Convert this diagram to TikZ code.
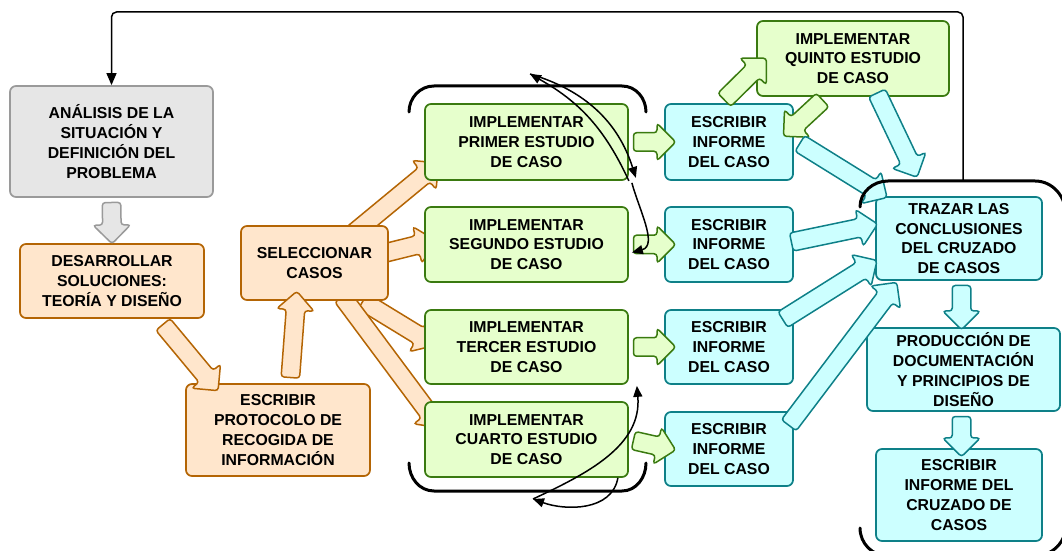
\documentclass[tikz,border=0pt]{standalone}
\usepackage{fontspec}
\setmainfont{Liberation Sans}
\usetikzlibrary{arrows.meta,calc,shapes.arrows,backgrounds}

\definecolor{grisfondo}{HTML}{E6E6E6}
\definecolor{grisborde}{HTML}{9A9A9A}
\definecolor{naranjafondo}{HTML}{FFE6CC}
\definecolor{naranjaborde}{HTML}{B46504}
\definecolor{verdefondo}{HTML}{E6FFCC}
\definecolor{verdeborde}{HTML}{3A7A10}
\definecolor{cianfondo}{HTML}{CCFFFF}
\definecolor{cianborde}{HTML}{0E8088}

\tikzset{
  caja/.style={draw, rounded corners=1.2mm, line width=0.35mm, align=center, inner sep=1pt,
    font=\fontsize{9}{11.3}\selectfont\bfseries},
  gris/.style={fill=grisfondo, draw=grisborde},
  naranja/.style={fill=naranjafondo, draw=naranjaborde},
  verde/.style={fill=verdefondo, draw=verdeborde},
  cian/.style={fill=cianfondo, draw=cianborde},
  bloque/.style={single arrow, draw, line width=0.3mm, rounded corners=0.6mm,
    inner xsep=0pt, inner ysep=1.7mm, single arrow head extend=1.9mm},
  llave/.style={line width=0.6mm, line cap=round},
  curva/.style={line width=0.3mm, -{Triangle[length=2.2mm,width=1.8mm]}},
  vuelta/.style={line width=0.3mm, rounded corners=1mm, -{Triangle[length=2.4mm,width=2mm]}}
}

% block arrow from #2 to #3
\newcommand{\flecha}[3]{%
  \path (#2) coordinate (fa) (#3) coordinate (fb);
  \path let \p1=(fa), \p2=(fb),
    \n1={atan2(\y2-\y1,\x2-\x1)}, \n2={veclen(\x2-\x1,\y2-\y1)} in
    node[bloque,#1,minimum height=\n2,rotate=\n1] at ($(fa)!0.5!(fb)$) {};}

\begin{document}
\begin{tikzpicture}[x=0.2mm,y=-0.2mm]
    \useasboundingbox (0,0) rectangle (1062,551);

    % Boxes
    \node[caja,gris,minimum width=40.6mm,minimum height=22.2mm] (ana) at (111.5,141.5)
      {ANÁLISIS DE LA\\SITUACIÓN Y\\DEFINICIÓN DEL\\PROBLEMA};
    \node[caja,naranja,minimum width=36.8mm,minimum height=14.8mm] (des) at (112,281)
      {DESARROLLAR\\SOLUCIONES:\\TEORÍA Y DISEÑO};
    \node[caja,naranja,minimum width=29.4mm,minimum height=14.8mm] (sel) at (314.5,263)
      {SELECCIONAR\\CASOS};
    \node[caja,naranja,minimum width=36.8mm,minimum height=18.4mm] (pro) at (278,430)
      {ESCRIBIR\\PROTOCOLO DE\\RECOGIDA DE\\INFORMACIÓN};

    \node[caja,verde,minimum width=40.6mm,minimum height=15.2mm] (p1) at (526.5,142)
      {IMPLEMENTAR\\PRIMER ESTUDIO\\DE CASO};
    \node[caja,verde,minimum width=40.6mm,minimum height=15mm] (p2) at (526.5,244.5)
      {IMPLEMENTAR\\SEGUNDO ESTUDIO\\DE CASO};
    \node[caja,verde,minimum width=40.6mm,minimum height=14.8mm] (p3) at (526.5,347)
      {IMPLEMENTAR\\TERCER ESTUDIO\\DE CASO};
    \node[caja,verde,minimum width=40.6mm,minimum height=15mm] (p4) at (526.5,439.5)
      {IMPLEMENTAR\\CUARTO ESTUDIO\\DE CASO};
    \node[caja,verde,minimum width=38.4mm,minimum height=15mm] (p5) at (853,58.5)
      {IMPLEMENTAR\\QUINTO ESTUDIO\\DE CASO};

    \node[caja,cian,minimum width=25.6mm,minimum height=15.2mm] (e1) at (729,142)
      {ESCRIBIR\\INFORME\\DEL CASO};
    \node[caja,cian,minimum width=25.6mm,minimum height=15mm] (e2) at (729,244.5)
      {ESCRIBIR\\INFORME\\DEL CASO};
    \node[caja,cian,minimum width=25.6mm,minimum height=14.8mm] (e3) at (729,347)
      {ESCRIBIR\\INFORME\\DEL CASO};
    \node[caja,cian,minimum width=25.6mm,minimum height=14.8mm] (e4) at (729,449)
      {ESCRIBIR\\INFORME\\DEL CASO};

    \node[caja,cian,minimum width=33.2mm,minimum height=16.6mm] (tra) at (959,238.5)
      {TRAZAR LAS\\CONCLUSIONES\\DEL CRUZADO\\DE CASOS};
    \node[caja,cian,minimum width=38.6mm,minimum height=16.6mm] (prod) at (963.5,369.5)
      {PRODUCCIÓN DE\\DOCUMENTACIÓN\\Y PRINCIPIOS DE\\DISEÑO};
    \node[caja,cian,minimum width=33.2mm,minimum height=18.4mm] (fin) at (959,495)
      {ESCRIBIR\\INFORME DEL\\CRUZADO DE\\CASOS};

    % Block arrows
    \begin{scope}[on background layer]
      \flecha{naranja}{$(sel.north east)+(-40,12)$}{$(p1.south west)+(11,-15)$}
      \flecha{naranja}{$(sel.east)+(-12,-8)$}{$(p2.west)+(7,-3)$}
      \flecha{naranja}{$(sel.south east)+(-30,-2)$}{$(p3.west)+(7,-4)$}
      \flecha{naranja}{$(sel.south)+(25,-8)$}{$(p4.west)+(13,-15.5)$}
    \end{scope}
    \flecha{gris}{ana.south}{$(des.north)+(0,-4)$}
    \flecha{naranja}{$(des.south)+(48,2)$}{$(pro.north west)+(30,4)$}
    \flecha{naranja}{$(pro.north)+(12,-1)$}{$(sel.south)+(-18,-5)$}

    \flecha{verde}{p1.east}{$(e1.west)+(7,0)$}
    \flecha{verde}{p2.east}{$(e2.west)+(7,0)$}
    \flecha{verde}{p3.east}{$(e3.west)+(7,0)$}
    \flecha{verde}{p4.east}{$(e4.west)+(7,0)$}
    \flecha{verde}{$(e1.north)+(-8,0)$}{$(p5.west)+(7,3)$}
    \flecha{verde}{$(p5.south)+(-27,0)$}{$(e1.north east)+(-7,30)$}

    \flecha{cian}{$(p5.south)+(22,-8)$}{$(tra.north west)+(40,-23)$}
    \flecha{cian}{$(e1.east)+(2,-1)$}{$(tra.north west)+(8,-1)$}
    \flecha{cian}{$(e2.east)+(-7,-1.5)$}{$(tra.west)+(-2,-13.5)$}
    \flecha{cian}{$(e3.north east)+(-15,13)$}{$(tra.south west)+(-2,-18)$}
    \flecha{cian}{$(e4.north east)+(-8,18)$}{$(tra.south west)+(19,5)$}
    \flecha{cian}{$(tra.south)+(2.5,0)$}{$(prod.north)+(-2,-2)$}
    \flecha{cian}{$(prod.south)+(-2,0)$}{$(fin.north)+(2.5,4)$}

    % Brackets
    \draw[llave] (409,112) to[out=90,in=180] (434,86) -- (622,86) to[out=0,in=90] (646,112);
    \draw[llave] (409,463) to[out=-90,in=180] (434,491) -- (622,491) to[out=0,in=-90] (646,463);
    \draw[llave] (860,207) to[out=90,in=180] (888,181) -- (1035,181) to[out=0,in=90] (1066,215);
    \draw[llave] (860,528) to[out=-90,in=180] (888,556) -- (1035,556) to[out=0,in=-90] (1066,525);

    % Curves
    \coordinate (llavesup) at (530,74);
    \coordinate (llaveinf) at (533,499);
    \draw[curva] (p1.south east) to[bend right=18] (llavesup);
    \draw[curva] (llavesup) to[bend left=28] ($(p1.south east)+(7,-3)$);
    \draw[curva] ($(p1.south east)+(3,2)$) to[out=-75,in=15] ($(p2.east)+(3,8)$);
    \draw[curva] (llaveinf) to[out=25,in=-85] ($(p3.south east)+(8,1)$);
    \draw[curva] ($(p4.south east)+(-11,0)$) to[out=-100,in=-20] (llaveinf);

    % Back to the start
    \coordinate (retorno) at (963,181);
    \draw[vuelta] (retorno) -- (963,12) -| (ana.north);
\end{tikzpicture}
\end{document}
